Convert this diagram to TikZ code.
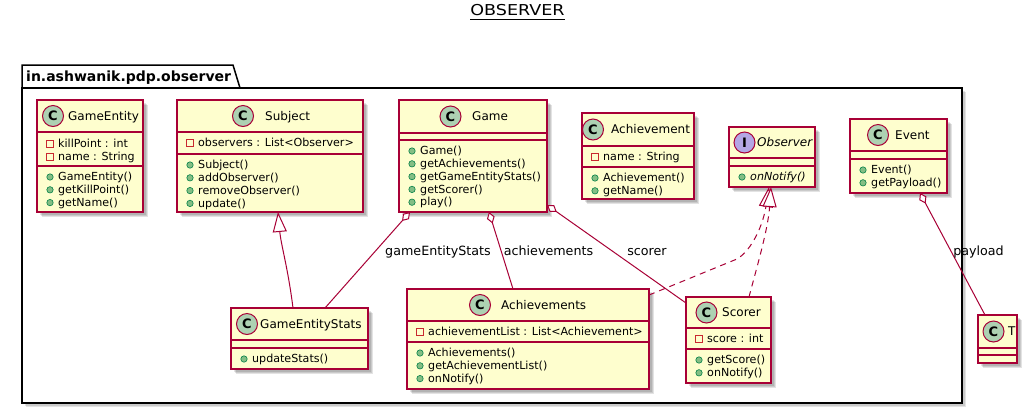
\documentclass[tikz,border=0pt]{standalone}
\usepackage{fontspec}
\setmainfont{DejaVu Sans}
\usepackage{graphicx}
\usetikzlibrary{arrows.meta,calc}
\definecolor{umlred}{HTML}{A80036}
\definecolor{umlfill}{HTML}{FEFECE}
\definecolor{cgreen}{HTML}{ADD1B2}
\definecolor{ipurple}{HTML}{B4A7E5}
\definecolor{privred}{HTML}{C82930}
\definecolor{pubfill}{HTML}{84BE84}
\definecolor{publine}{HTML}{038048}
\tikzset{
  cls/.style={draw=umlred, fill=umlfill, line width=1.5bp, inner sep=0pt, outer sep=0pt},
  clsline/.style={draw=umlred, line width=1.5bp},
  shadowfill/.style={fill=black, opacity=0.11},
  namef/.style={font=\fontsize{12bp}{14bp}\selectfont, inner sep=0pt, anchor=base west},
  memf/.style={font=\fontsize{11.1bp}{13bp}\selectfont, inner sep=0pt, anchor=base west},
  lblf/.style={font=\fontsize{12.7bp}{15bp}\selectfont, inner sep=0pt, anchor=base},
  titlef/.style={font=\fontsize{15bp}{18bp}\selectfont, inner sep=0pt, anchor=base},
  pkgf/.style={font=\fontsize{14bp}{16bp}\selectfont\bfseries, inner sep=0pt, anchor=base west},
  pkgline/.style={draw=black, line width=1.5bp},
  conn/.style={draw=umlred, line width=1bp},
  realize/.style={conn, dash pattern=on 6bp off 5bp},
  circC/.style={circle, draw=umlred, fill=cgreen, line width=1bp, minimum size=21bp, inner sep=0pt, font=\fontsize{13bp}{13bp}\selectfont\bfseries},
  circI/.style={circC, fill=ipurple},
  aggtip/.style={{Diamond[length=12bp,width=8bp,fill=white]}-},
  gentip/.style={-{Triangle[length=20bp,width=14bp,fill=white]}}
}
\newcommand\umlbox[7]{%
  \fill[shadowfill] (#2+3,#3+3) rectangle (#4+3,#5+3);
  \fill[shadowfill] (#2+4,#3+4) rectangle (#4+4,#5+4);
  \fill[shadowfill] (#2+5,#3+5) rectangle (#4+5,#5+5);
  \node[cls, anchor=north west, minimum width={(#4-#2)*1bp}, minimum height={(#5-#3)*1bp}] (#1) at (#2,#3) {};
  \draw[clsline] (#2,#6) -- (#4,#6);
  \draw[clsline] (#2,#7) -- (#4,#7);
}
\newcommand\umlpriv[4]{%
  \draw[privred, line width=1bp] (#2+13-3.2,#3-3.2) rectangle (#2+13+3.2,#3+3.2);
  \node[memf] (#1) at (#2+21,#3+3.6) {#4};
}
\newcommand\umlpub[4]{%
  \filldraw[fill=pubfill, draw=publine, line width=0.6bp] (#2+13,#3) circle (3.2bp);
  \node[memf] (#1) at (#2+21,#3+3.6) {#4};
}
\begin{document}
\begin{tikzpicture}[x=1bp,y=-1bp]
\useasboundingbox (0,0) rectangle (1027,415);
\fill[white] (0,0) rectangle (1027,415);

% title
\node[titlef] (title) at (517.5,15.7) {\scalebox{1.17}[1]{OBSERVER}};
\draw[black, line width=1bp] ($(title.base west)+(0,3.3)$) -- ($(title.base east)+(0,3.3)$);

% package
\fill[shadowfill] (25,91) rectangle (965,406);
\fill[shadowfill] (26,92) rectangle (966,407);
\filldraw[pkgline, fill=white] (22,88) -- (22,65) -- (233,65) -- (240,88) -- cycle;
\filldraw[pkgline, fill=white] (22,88) rectangle (962,403);
\node[pkgf] (pkglabel) at (26,81) {in.ashwanik.pdp.observer};

% GameEntity
\umlbox{gameentity}{37}{100}{143}{212}{132}{166}
\node[circC] (geC) at (53,116) {C};
\node[namef] (geN) at (68,120.3) {GameEntity};
\umlpriv{ge1}{37}{144}{killPoint : int}
\umlpriv{ge2}{37}{156.8}{name : String}
\umlpub{ge3}{37}{177}{GameEntity()}
\umlpub{ge4}{37}{189.8}{getKillPoint()}
\umlpub{ge5}{37}{202.6}{getName()}

% Subject
\umlbox{subject}{177}{100}{363}{212}{132}{154}
\node[circC] (suC) at (243,116) {C};
\node[namef] (suN) at (265,120.3) {Subject};
\umlpriv{su1}{177}{143}{observers : List<Observer>}
\umlpub{su2}{177}{165}{Subject()}
\umlpub{su3}{177}{177.8}{addObserver()}
\umlpub{su4}{177}{190.6}{removeObserver()}
\umlpub{su5}{177}{203.4}{update()}

% Game
\umlbox{game}{399}{100}{547}{212}{133}{140}
\node[circC] (gaC) at (450.5,116.5) {C};
\node[namef] (gaN) at (472,120.8) {Game};
\umlpub{ga1}{399}{151}{Game()}
\umlpub{ga2}{399}{163.8}{getAchievements()}
\umlpub{ga3}{399}{176.6}{getGameEntityStats()}
\umlpub{ga4}{399}{189.4}{getScorer()}
\umlpub{ga5}{399}{202.2}{play()}

% Achievement
\umlbox{achievement}{582}{113}{694}{199}{146}{167}
\node[circC] (acC) at (593,129.5) {C};
\node[namef] (acN) at (611,133.8) {Achievement};
\umlpriv{ac1}{582}{157}{name : String}
\umlpub{ac2}{582}{178}{Achievement()}
\umlpub{ac3}{582}{190.8}{getName()}

% Observer
\umlbox{observer}{729}{127}{815}{187}{158}{166}
\node[circI] (obC) at (744.5,142.5) {I};
\node[namef] (obN) at (757,146.8) {\itshape Observer};
\umlpub{ob1}{729}{177}{\itshape onNotify()}

% Event
\umlbox{event}{850}{119}{947}{193}{151}{159}
\node[circC] (evC) at (878,135) {C};
\node[namef] (evN) at (895,139.3) {Event};
\umlpub{ev1}{850}{170}{Event()}
\umlpub{ev2}{850}{182.8}{getPayload()}

% GameEntityStats
\umlbox{ges}{231}{308}{368}{369}{340}{348}
\node[circC] (gsC) at (247,324) {C};
\node[namef] (gsN) at (260,328.3) {GameEntityStats};
\umlpub{gs1}{231}{359}{updateStats()}

% Achievements
\umlbox{achvs}{407}{289}{649}{389}{321}{342}
\node[circC] (asC) at (480,305) {C};
\node[namef] (asN) at (501,309.3) {Achievements};
\umlpriv{as1}{407}{332}{achievementList : List<Achievement>}
\umlpub{as2}{407}{353}{Achievements()}
\umlpub{as3}{407}{365.8}{getAchievementList()}
\umlpub{as4}{407}{378.6}{onNotify()}

% Scorer
\umlbox{scorer}{686}{297}{771}{383}{328}{349}
\node[circC] (scC) at (706.5,312.5) {C};
\node[namef] (scN) at (722,316.8) {Scorer};
\umlpriv{sc1}{686}{339}{score : int}
\umlpub{sc2}{686}{360}{getScore()}
\umlpub{sc3}{686}{372.8}{onNotify()}

% T
\umlbox{tcls}{978}{315}{1017}{363}{348}{355}
\node[circC] (tC) at (993.5,331.5) {C};
\node[namef] (tN) at (1008,335.8) {T};

% connectors
\draw[conn, gentip] ($(ges.north west)+(62,0)$) .. controls (288,268) and (281,245) .. ($(subject.south west)+(101,0)$);
\draw[conn, aggtip] ($(game.south west)+(11,0)$) -- ($(ges.north west)+(94,0)$);
\draw[conn, aggtip] ($(game.south west)+(90,0)$) -- ($(achvs.north west)+(106,0)$);
\draw[conn, aggtip] ($(game.south east)+(0,-7)$) -- ($(scorer.north west)+(0,6)$);
\draw[realize, gentip] ($(achvs.north east)+(0,6)$) -- (737,259) .. controls (752,250) and (763,225) .. ($(observer.south west)+(40,0)$);
\draw[realize, gentip] ($(scorer.north west)+(63,0)$) .. controls (756,270) and (768,230) .. ($(observer.south west)+(42,0)$);
\draw[conn, aggtip] ($(event.south west)+(70,0)$) -- ($(tcls.north west)+(7,0)$);

% labels
\node[lblf] (lbGes) at (438,255.5) {gameEntityStats};
\node[lblf] (lbAch) at (548.5,255.5) {achievements};
\node[lblf] (lbSc) at (647,255.5) {scorer};
\node[lblf] (lbPay) at (978.5,255.5) {payload};
\end{tikzpicture}
\end{document}
